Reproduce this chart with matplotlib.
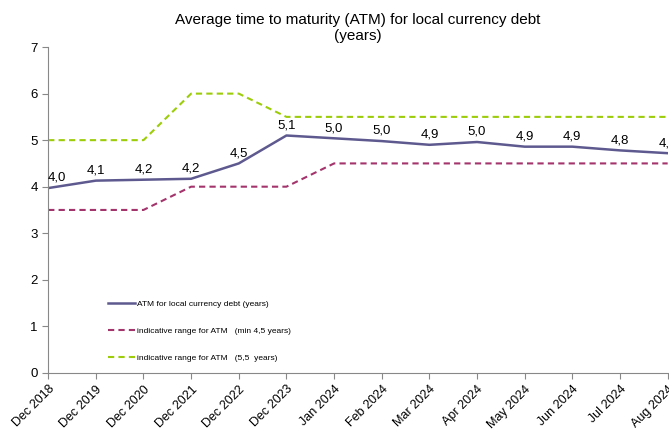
import matplotlib
matplotlib.use("Agg")
import matplotlib.pyplot as plt

plt.rcParams["font.family"] = ["Liberation Sans", "DejaVu Sans"]

# Data
periods = ["Dec 2018", "Dec 2019", "Dec 2020", "Dec 2021", "Dec 2022", "Dec 2023",
           "Jan 2024", "Feb 2024", "Mar 2024", "Apr 2024", "May 2024", "Jun 2024",
           "Jul 2024", "Aug 2024"]
atm = [3.97, 4.13, 4.15, 4.17, 4.50, 5.10, 5.04, 4.98, 4.90, 4.96, 4.86, 4.86, 4.78, 4.72]
atm_labels = ["4,0", "4,1", "4,2", "4,2", "4,5", "5,1", "5,0", "5,0", "4,9", "5,0",
              "4,9", "4,9", "4,8", "4,7"]
range_min = [3.5, 3.5, 3.5, 4.0, 4.0, 4.0, 4.5, 4.5, 4.5, 4.5, 4.5, 4.5, 4.5, 4.5]
range_max = [5.0, 5.0, 5.0, 6.0, 6.0, 5.5, 5.5, 5.5, 5.5, 5.5, 5.5, 5.5, 5.5, 5.5]

fig = plt.figure(figsize=(6.69, 4.32), dpi=100)
ax = fig.add_axes([0.072, 0.137, 0.926, 0.754])

x = list(range(len(periods)))
ax.plot(x, atm, color="#5e5a8f", lw=1.8, label="ATM for local currency debt (years)")
ax.plot(x, range_min, color="#a3346c", lw=1.5, ls=(0, (3, 2)),
        label="indicative range for ATM   (min 4,5 years)")
ax.plot(x, range_max, color="#9ccc0a", lw=1.5, ls=(0, (3, 2)),
        label="indicative range for ATM   (5,5  years)")

for i, (v, lab) in enumerate(zip(atm, atm_labels)):
    dx = 6 if i == 0 else 0
    ax.annotate(lab, (i, v), xytext=(dx, 3), textcoords="offset points",
                ha="center", va="bottom", fontsize=9.5, annotation_clip=False)

ax.set_xlim(0, len(periods) - 1)
ax.set_ylim(0, 7)
ax.set_xticks(x)
ax.set_xticklabels(periods, rotation=45, ha="right", rotation_mode="anchor", fontsize=9)
ax.set_yticks(range(0, 8))
ax.tick_params(axis="y", labelsize=9.5, length=4, color="#888888")
ax.tick_params(axis="x", length=4, color="#888888")

for s in ["top", "right"]:
    ax.spines[s].set_visible(False)
for s in ["left", "bottom"]:
    ax.spines[s].set_color("#888888")

ax.set_title("Average time to maturity (ATM) for local currency debt\n(years)",
             fontsize=11, pad=5, linespacing=1.15)

ax.legend(loc="lower left", bbox_to_anchor=(0.085, 0.01), frameon=False,
          fontsize=6, handlelength=3.2, labelspacing=2.3, handletextpad=0.2)

fig.savefig("out.png", dpi=100)
